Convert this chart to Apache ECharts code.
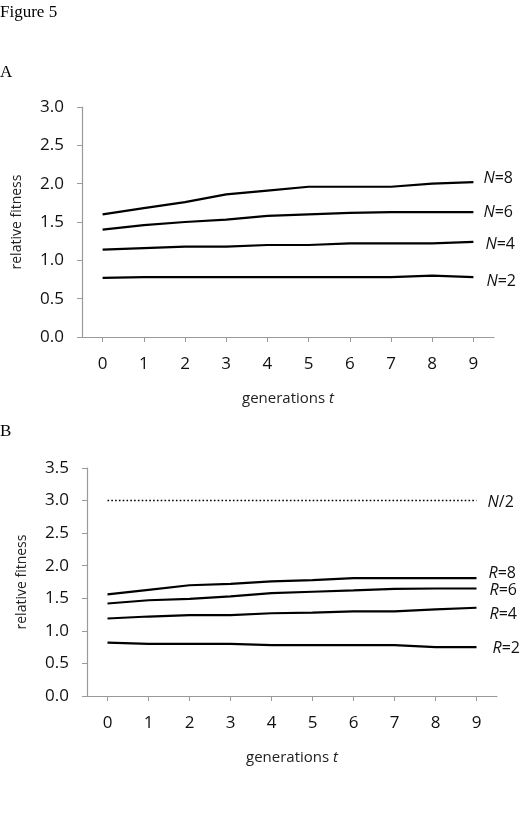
<!DOCTYPE html>
<html>
<head>
<meta charset="utf-8">
<script src="https://cdn.jsdelivr.net/npm/echarts@6/dist/echarts.min.js"></script>
<style>
html,body{margin:0;padding:0;background:#fff;}
#chart{width:525px;height:834px;}
</style>
</head>
<body>
<div id="chart"></div>
<script>
// ---- data ----
var generations = ['0','1','2','3','4','5','6','7','8','9'];
var yTicksA = [0, 3.0, 0.5];
var yTicksB = [0, 3.5, 0.5];
// Panel A
var A_N8 = [1.60,1.68,1.76,1.86,1.91,1.96,1.96,1.96,2.00,2.02];
var A_N6 = [1.40,1.46,1.50,1.53,1.58,1.60,1.62,1.63,1.63,1.63];
var A_N4 = [1.14,1.16,1.18,1.18,1.20,1.20,1.22,1.22,1.22,1.24];
var A_N2 = [0.77,0.78,0.78,0.78,0.78,0.78,0.78,0.78,0.80,0.78];
// Panel B
var B_Nhalf = [3.0,3.0,3.0,3.0,3.0,3.0,3.0,3.0,3.0,3.0];
var B_R8 = [1.56,1.63,1.70,1.72,1.76,1.78,1.81,1.81,1.81,1.81];
var B_R6 = [1.42,1.47,1.49,1.53,1.58,1.60,1.62,1.645,1.65,1.65];
var B_R4 = [1.19,1.22,1.24,1.24,1.27,1.28,1.30,1.30,1.33,1.355];
var B_R2 = [0.82,0.80,0.80,0.80,0.78,0.78,0.78,0.78,0.75,0.75];
var labelsA = [['N','=8'],['N','=6'],['N','=4'],['N','=2']];
var labelsB = [['N','/2'],['R','=8'],['R','=6'],['R','=4'],['R','=2']];

var FONT = 'Open Sans';
var AXIS_GRAY = '#9a9a9a';

function xAxisFor(gi){
  return {
    type:'category', gridIndex:gi, data:generations, boundaryGap:true,
    axisLine:{show:true, lineStyle:{color:AXIS_GRAY, width:1.2}},
    axisTick:{show:true, alignWithLabel:true, length:5, lineStyle:{color:AXIS_GRAY}},
    axisLabel:{color:'#111', fontFamily:FONT, fontSize:17, margin:19},
    name:'generations {i|t}', nameLocation:'middle', nameGap:54,
    nameTextStyle:{color:'#222', fontFamily:FONT, fontSize:15,
      rich:{i:{fontStyle:'italic', fontFamily:FONT, fontSize:15, color:'#222'}}},
    splitLine:{show:false}
  };
}
function yAxisFor(gi, t){
  return {
    type:'value', gridIndex:gi, min:t[0], max:t[1], interval:t[2],
    axisLine:{show:true, lineStyle:{color:AXIS_GRAY, width:1.2}},
    axisTick:{show:true, length:5, lineStyle:{color:AXIS_GRAY}},
    axisLabel:{color:'#111', fontFamily:FONT, fontSize:17, margin:18,
      formatter:function(v){return v.toFixed(1);}},
    name:'relative fitness', nameLocation:'middle', nameGap:58, nameRotate:90,
    nameTextStyle:{color:'#222', fontFamily:FONT, fontSize:14},
    splitLine:{show:false}
  };
}
function lineSeries(gi, data, lab, off, dotted){
  return {
    type:'line', xAxisIndex:gi, yAxisIndex:gi, data:data,
    symbol:'none', smooth:false, animation:false,
    lineStyle:{color:'#000', width: dotted?1.6:2.2, type: dotted?[1.6,2.2]:'solid'},
    endLabel:{show:true, distance:0, offset:off,
      formatter:'{i|'+lab[0]+'}'+lab[1],
      color:'#111', fontFamily:FONT, fontSize:16, align:'left', verticalAlign:'middle',
      rich:{i:{fontStyle:'italic', fontFamily:FONT, fontSize:16, color:'#111'}}},
    emphasis:{disabled:true}
  };
}

var TSTYLE = {fontFamily:'Liberation Serif', fontSize:17, fontWeight:'normal', color:'#000'};
var chart = echarts.init(document.getElementById('chart'), null, {renderer:'canvas'});
chart.setOption({
  animation:false,
  backgroundColor:'#fff',
  title:[
    {text:'Figure 5', left:0, top:4, padding:0, textStyle:TSTYLE},
    {text:'A', left:0, top:64, padding:0, textStyle:TSTYLE},
    {text:'B', left:0, top:423, padding:0, textStyle:TSTYLE}
  ],
  grid:[
    {left:82, top:107, width:412, height:230},
    {left:87, top:468, width:410, height:228}
  ],
  xAxis:[xAxisFor(0), xAxisFor(1)],
  yAxis:[yAxisFor(0, yTicksA), yAxisFor(1, yTicksB)],
  series:[
    lineSeries(0, A_N8, labelsA[0], [10,-4]),
    lineSeries(0, A_N6, labelsA[1], [10,0]),
    lineSeries(0, A_N4, labelsA[2], [12,3]),
    lineSeries(0, A_N2, labelsA[3], [13,4]),
    lineSeries(1, B_Nhalf, labelsB[0], [11,2], true),
    lineSeries(1, B_R8, labelsB[1], [12,-5]),
    lineSeries(1, B_R6, labelsB[2], [13,2]),
    lineSeries(1, B_R4, labelsB[3], [13,7]),
    lineSeries(1, B_R2, labelsB[4], [16,1])
  ]
});
</script>
</body>
</html>
